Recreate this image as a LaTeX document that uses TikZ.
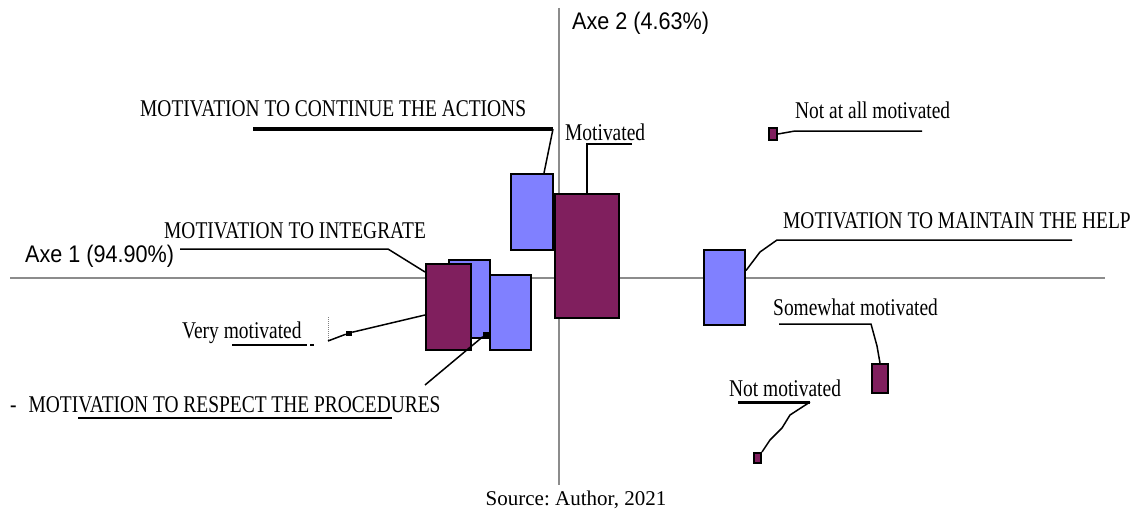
\documentclass[tikz,border=0pt]{standalone}
\usepackage{fontspec}
\setmainfont{Liberation Serif}[FakeStretch=0.81]
\newfontfamily\axefont{Liberation Sans}[FakeStretch=0.9]
\newfontfamily\srcfont{Liberation Serif}
\definecolor{boxblue}{RGB}{128,128,255}
\definecolor{boxplum}{RGB}{128,31,94}
\frenchspacing
\tikzset{
  axis/.style={draw=gray!90, line width=1.5pt},
  bbox/.style={draw=black, line width=2pt, fill=boxblue, anchor=north west, inner sep=0pt},
  pbox/.style={draw=black, line width=2pt, fill=boxplum, anchor=north west, inner sep=0pt},
  mk/.style={fill=black, inner sep=0pt, minimum width=6pt, minimum height=5pt},
  lab/.style={anchor=base west, inner sep=0pt, font=\fontsize{24}{28}\selectfont},
  axlab/.style={anchor=base west, inner sep=0pt, font=\axefont\fontsize{24}{28}\selectfont},
  lead/.style={line width=1.5pt},
  uline/.style={line width=2pt},
}
\begin{document}
\begin{tikzpicture}[x=1pt,y=-1pt]
                \useasboundingbox (0,0) rectangle (1136,511);
                % axes
                \coordinate (A1w) at (10,278); \coordinate (A1e) at (1105,278);
                \coordinate (A2n) at (559,8); \coordinate (A2s) at (559,485);
                \draw[axis] (A1w) -- (A1e); \draw[axis] (A2n) -- (A2s);
                \node[axlab] (ax1) at (25,262) {Axe 1 (94.90\%)};
                \node[axlab] (ax2) at (572,30) {Axe 2 (4.63\%)};

                % points
                \node[bbox, minimum width=41pt, minimum height=78pt] (boxB) at (448,259) {};
                \node[pbox, minimum width=45pt, minimum height=86pt] (boxA) at (425,263) {};
                \node[bbox, minimum width=41pt, minimum height=75pt] (boxC) at (489,274) {};
                \node[bbox, minimum width=42pt, minimum height=76pt] (boxD) at (510,173) {};
                \node[pbox, minimum width=64pt, minimum height=124pt] (boxE) at (554,193) {};
                \node[bbox, minimum width=41pt, minimum height=75pt] (boxF) at (703,249) {};
                \node[pbox, minimum width=16pt, minimum height=29pt] (boxG) at (871,363) {};
                \node[pbox, minimum width=7pt, minimum height=10pt] (boxH) at (753,452) {};
                \node[pbox, minimum width=8pt, minimum height=12pt] (boxI) at (768,127) {};

                % labels
                \node[lab] (Lcont) at (140,117) {MOTIVATION TO CONTINUE THE ACTIONS};
                \node[lab] (Lmot) at (565,140) {Motivated};
                \node[lab] (Lnaa) at (795,118) {Not at all motivated};
                \node[lab] (Lmain) at (783,228) {MOTIVATION TO MAINTAIN THE HELP};
                \node[lab] (Lsome) at (773,315) {Somewhat motivated};
                \node[lab] (Lnot) at (729,396) {Not motivated};
                \node[lab] (Linteg) at (164,238) {MOTIVATION TO INTEGRATE};
                \node[lab] (Lvery) at (182,338) {Very motivated};
                \node[lab] (Lresp) at (10,412) {-\hspace{12pt}MOTIVATION TO RESPECT THE PROCEDURES};
                \node[anchor=base, inner sep=0pt, font=\srcfont\fontsize{21}{25}\selectfont] (src) at (576,505) {Source: Author, 2021};

                % leaders
                \coordinate (cU1) at (253,129); \coordinate (cU2) at (553,129);
                \draw[line width=4pt] (cU1) -- (cU2); \draw[lead] (cU2) -- ([xshift=12pt]boxD.north);
                \coordinate (mU) at (632,144);
                \draw[lead] (boxE.north) |- (mU);
                \coordinate (nU1) at (795,131); \coordinate (nU2) at (922,131);
                \draw[lead] (boxI.east) -- (nU1) -- (nU2);
                \coordinate (hU1) at (777,240); \coordinate (hU2) at (1072,240);
                \draw[lead] ([yshift=17pt]boxF.east) -- (760,252) -- (hU1) -- (hU2);
                \coordinate (sU1) at (779,324); \coordinate (sU2) at (871,324);
                \draw[lead] (boxG.north) -- (877,346) -- (sU2) -- (sU1);
                \coordinate (tU1) at (738,402); \coordinate (tU2) at (810,402);
                \draw[line width=3pt] (tU1) -- (tU2);
                \draw[lead] (boxH.north east) -- (770,440) -- (782,428) -- (790,415) -- (tU2);
                \coordinate (gU1) at (180,249); \coordinate (gU2) at (388,249);
                \draw[lead] ([yshift=35pt]boxA.west) -- (gU2) -- (gU1);
                \coordinate (vU1) at (232,345); \coordinate (vU2) at (307,345);
                \draw[uline] (vU1) -- (vU2); \draw[uline] (310,345) -- (314,345);
                \coordinate (vT1) at (328,317); \coordinate (vT2) at (328,341);
                \draw[gray, densely dotted, line width=1pt] (vT1) -- (vT2);
                \node[mk] (vmk) at (349,333) {};
                \draw[lead] (vT2) -- (vmk) -- ([yshift=-8pt]boxA.west);
                \coordinate (rU1) at (78,418); \coordinate (rU2) at (392,418); \coordinate (rE) at (425,385);
                \draw[uline] (rU1) -- (rU2);
                \node[mk] (rmk) at (486,334) {};
                \draw[lead] (rmk) -- (rE);
\end{tikzpicture}
\end{document}
